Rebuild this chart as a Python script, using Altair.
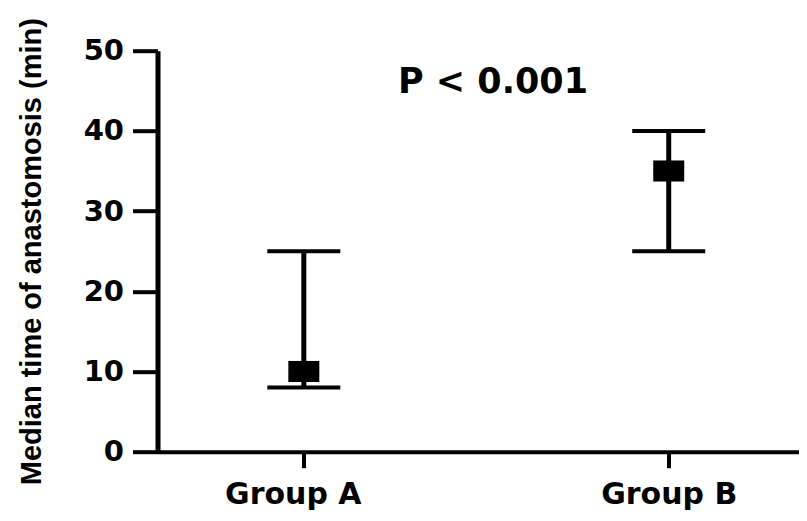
import altair as alt
import pandas as pd

# data
groups = ["Group A", "Group B"]
medians = [10, 35]
lows = [8, 25]
highs = [25, 40]
y_ticks = [0, 10, 20, 30, 40, 50]
annotation = ["P < 0.001"]
annotation_y = [44.7]

positions = list(range(1, len(groups) + 1))
df = pd.DataFrame({"group": groups, "pos": positions, "median": medians,
                   "low": lows, "high": highs})
ann = pd.DataFrame({"label": annotation, "y": annotation_y})

BOLD_WIDE = "DejaVu Sans"
TITLE_FONT = "Liberation Sans"

label_expr = "[" + ",".join("'%s'" % g for g in groups) + "][datum.value - 1]"

x_enc = alt.X(
    "pos:Q",
    scale=alt.Scale(domain=[0.599, 2.357], nice=False, zero=False),
    axis=alt.Axis(
        title=None, values=positions, labelExpr=label_expr, grid=False,
        labelAngle=0, tickSize=16, tickWidth=4, tickColor="black",
        domainWidth=4, domainColor="black",
        labelFont=BOLD_WIDE, labelFontSize=30, labelFontWeight="bold",
        labelColor="black", labelPadding=12, labelFlush=False, labelOverlap=False,
        labelOffset={"condition": {"test": "datum.value == 1", "value": -11}, "value": 0},
    ),
)
y_scale = alt.Scale(domain=[0, 50], nice=False, zero=True)
y_axis = alt.Axis(
    title="Median time of anastomosis (min)", values=y_ticks, grid=False,
    tickSize=25, tickWidth=4, tickColor="black", domainWidth=5, domainColor="black",
    labelFont=BOLD_WIDE, labelFontSize=29, labelFontWeight="bold", labelColor="black",
    labelPadding=9, titleFont=TITLE_FONT, titleFontSize=29, titleFontWeight="bold",
    titleColor="black", titlePadding=37,
)

base = alt.Chart(df).encode(x=x_enc)

whisker = base.mark_rule(color="black", strokeWidth=5).encode(
    y=alt.Y("low:Q", scale=y_scale, axis=y_axis), y2="high:Q"
)
cap_lo = base.mark_tick(color="black", size=73, thickness=4, opacity=1,
                        orient="horizontal").encode(y=alt.Y("low:Q", scale=y_scale))
cap_hi = base.mark_tick(color="black", size=73, thickness=4, opacity=1,
                        orient="horizontal").encode(y=alt.Y("high:Q", scale=y_scale))
median_pt = base.mark_point(
    shape="M-1,-0.68L1,-0.68L1,0.68L-1,0.68Z", size=961, filled=True,
    color="black", opacity=1, strokeWidth=0,
).encode(y=alt.Y("median:Q", scale=y_scale))

ptext = alt.Chart(ann).mark_text(
    font=BOLD_WIDE, fontSize=35, fontWeight="bold", color="black",
    align="center", baseline="alphabetic",
).encode(x=alt.value(335.5), y=alt.Y("y:Q", scale=y_scale), text="label:N")

chart = alt.layer(whisker, cap_lo, cap_hi, median_pt, ptext).properties(
    width=641.5, height=401,
    autosize=alt.AutoSizeParams(type="none"),
    padding={"left": 149.5, "top": 42.7, "right": 0, "bottom": 61},
    background="white",
).configure_view(stroke=None)

chart.save("out.html", embed_options={"renderer": "svg", "actions": False})
